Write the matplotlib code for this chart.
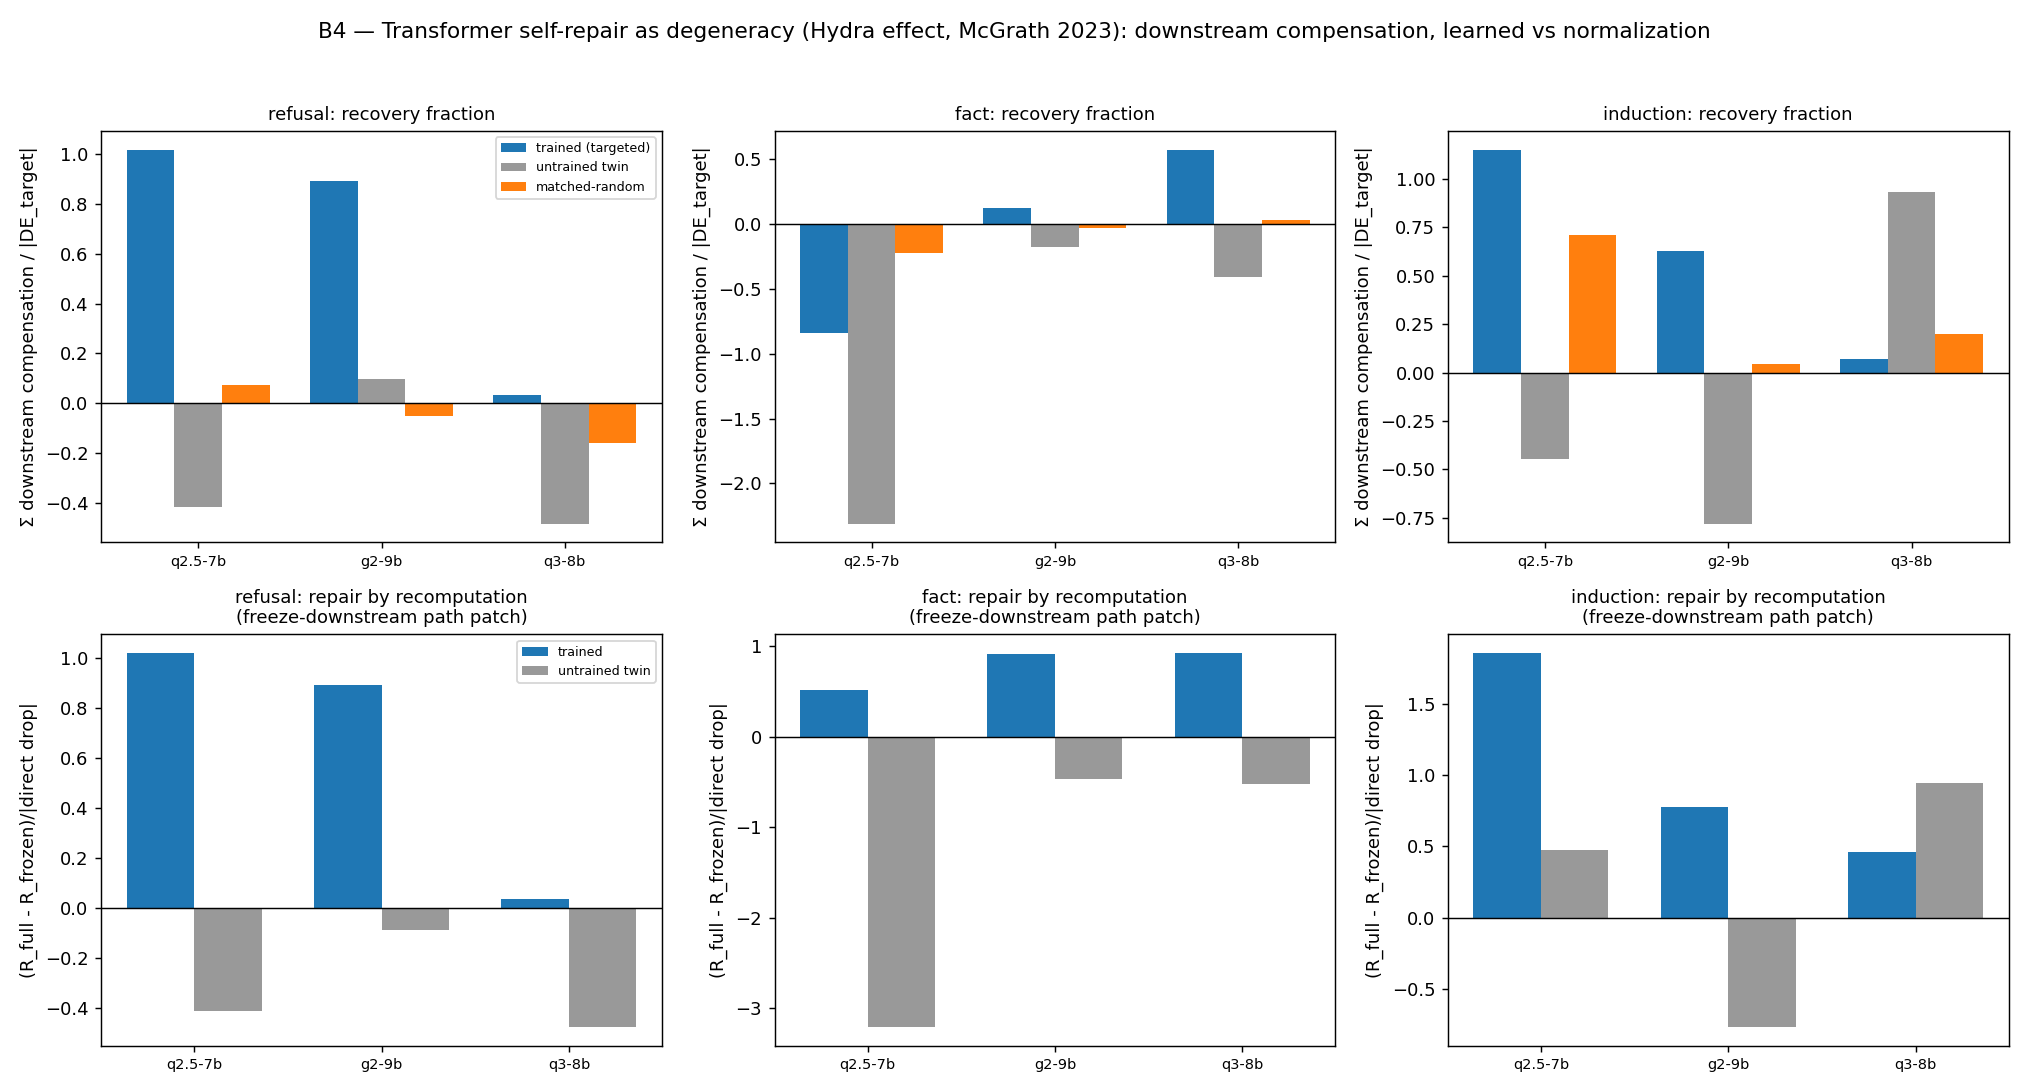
import matplotlib
matplotlib.use("Agg")
import matplotlib.pyplot as plt
import numpy as np

models = ["q2.5-7b", "g2-9b", "q3-8b"]
tasks = ["refusal", "fact", "induction"]

# recovery fraction: sum downstream compensation / |DE_target|
rec_trained = {
    "refusal": [1.02, 0.893, 0.032],
    "fact": [-0.844, 0.118, 0.572],
    "induction": [1.151, 0.625, 0.069],
}
rec_untrained = {
    "refusal": [-0.416, 0.097, -0.485],
    "fact": [-2.31, -0.179, -0.41],
    "induction": [-0.445, -0.78, 0.93],
}
rec_random = {
    "refusal": [0.072, -0.051, -0.16],
    "fact": [-0.228, -0.033, 0.026],
    "induction": [0.708, 0.043, 0.198],
}

# repair by recomputation (freeze-downstream path patch)
rep_trained = {
    "refusal": [1.021, 0.893, 0.037],
    "fact": [0.518, 0.915, 0.926],
    "induction": [1.855, 0.779, 0.464],
}
rep_untrained = {
    "refusal": [-0.413, -0.089, -0.477],
    "fact": [-3.206, -0.471, -0.526],
    "induction": [0.478, -0.765, 0.946],
}

BLUE = "#1f77b4"
GRAY = "#999999"
ORANGE = "#ff7f0e"

fig, axes = plt.subplots(2, 3, figsize=(15.6, 8.4), dpi=130)
x = np.arange(len(models))

for j, task in enumerate(tasks):
    # top row: recovery fraction
    ax = axes[0, j]
    w = 0.26
    ax.bar(x - w, rec_trained[task], w, color=BLUE, label="trained (targeted)")
    ax.bar(x, rec_untrained[task], w, color=GRAY, label="untrained twin")
    ax.bar(x + w, rec_random[task], w, color=ORANGE, label="matched-random")
    ax.axhline(0, color="k", lw=0.8)
    ax.set_xticks(x)
    ax.set_xticklabels(models, fontsize=8)
    ax.set_title(f"{task}: recovery fraction", fontsize=10)
    ax.set_ylabel("Σ downstream compensation / |DE_target|")
    if j == 0:
        ax.legend(fontsize=7)

    # bottom row: repair by recomputation
    ax = axes[1, j]
    w = 0.36
    ax.bar(x - w / 2, rep_trained[task], w, color=BLUE, label="trained")
    ax.bar(x + w / 2, rep_untrained[task], w, color=GRAY, label="untrained twin")
    ax.axhline(0, color="k", lw=0.8)
    ax.set_xticks(x)
    ax.set_xticklabels(models, fontsize=8)
    ax.set_title(f"{task}: repair by recomputation\n(freeze-downstream path patch)", fontsize=10)
    ax.set_ylabel("(R_full - R_frozen)/|direct drop|")
    if j == 0:
        ax.legend(fontsize=7)

fig.suptitle("B4 — Transformer self-repair as degeneracy (Hydra effect, McGrath 2023): "
             "downstream compensation, learned vs normalization", fontsize=12)
fig.tight_layout(rect=(0, 0, 1, 0.957))
fig.savefig("out.png")
